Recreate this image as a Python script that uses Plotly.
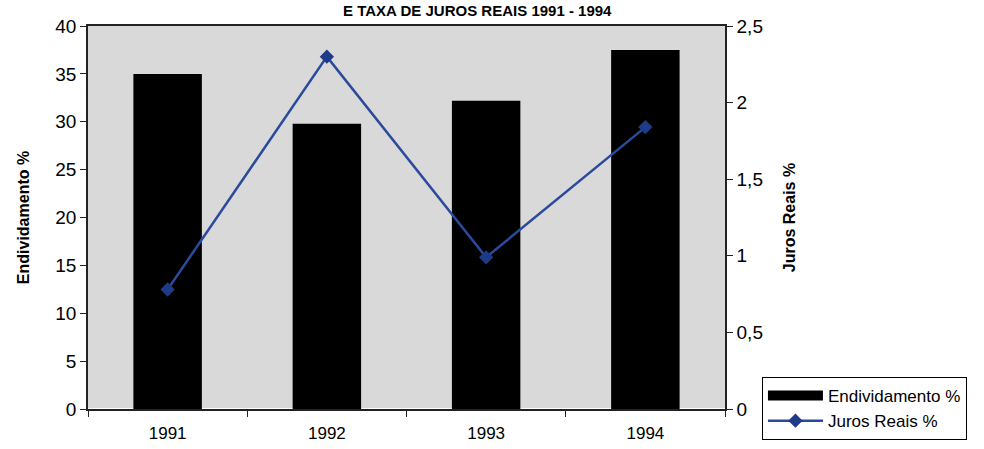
import plotly.graph_objects as go

years = ["1991", "1992", "1993", "1994"]
endividamento = [35.0, 29.8, 32.2, 37.5]
juros = [0.78, 2.30, 0.99, 1.84]

fig = go.Figure()
fig.add_trace(go.Bar(
    x=years, y=endividamento, name="Endividamento %",
    marker=dict(color="#000000", line=dict(width=0)),
    yaxis="y", showlegend=False,
))
# legend-only entry reproducing the wide black swatch of the original legend
fig.add_trace(go.Scatter(
    x=[None], y=[None], name="Endividamento %", mode="lines",
    line=dict(color="#000000", width=14), yaxis="y",
))
fig.add_trace(go.Scatter(
    x=years, y=juros, name="Juros Reais %", mode="lines+markers",
    line=dict(color="#2b4a9c", width=2.5),
    marker=dict(symbol="diamond", size=11, color="#1f3a88"),
    yaxis="y2",
))

font_family = "Liberation Sans, Arial, sans-serif"
fig.update_layout(
    width=984, height=449,
    margin=dict(l=88, r=259, t=26, b=40, autoexpand=False),
    paper_bgcolor="white",
    plot_bgcolor="#d9d9d9",
    separators=",.",
    bargap=0.57,
    font=dict(family=font_family, color="black", size=17),
    title=dict(text="<b>E TAXA DE JUROS REAIS 1991 - 1994</b>",
               x=0.485, xanchor="center", y=1, yanchor="top",
               pad=dict(t=5), font=dict(size=15, color="black")),
    xaxis=dict(
        showline=True, linecolor="#222", linewidth=1.5, mirror=True,
        ticks="outside", tickson="boundaries", ticklen=6, tickcolor="#222",
        showgrid=False, tickfont=dict(size=17), automargin=False,
        ticklabelstandoff=8,
    ),
    yaxis=dict(
        range=[0, 40], dtick=5, showgrid=False,
        showline=True, linecolor="#222", linewidth=1.5,
        ticks="outside", ticklen=6, tickcolor="#222",
        tickfont=dict(size=19), automargin=False,
        title=dict(text="<b>Endividamento %</b>", font=dict(size=16), standoff=22),
    ),
    yaxis2=dict(
        range=[0, 2.5], dtick=0.5, overlaying="y", side="right",
        showgrid=False, showline=True, linecolor="#222", linewidth=1.5,
        ticks="outside", ticklen=6, tickcolor="#222",
        tickfont=dict(size=19), zeroline=False, automargin=False,
        title=dict(text="<b>Juros Reais %</b>", font=dict(size=16), standoff=22),
    ),
    legend=dict(
        x=1.058, xanchor="left", y=0.0836, yanchor="top",
        bordercolor="black", borderwidth=1, bgcolor="white",
        font=dict(size=17), tracegroupgap=0, itemwidth=55,
    ),
)

fig.write_html("out.html")
